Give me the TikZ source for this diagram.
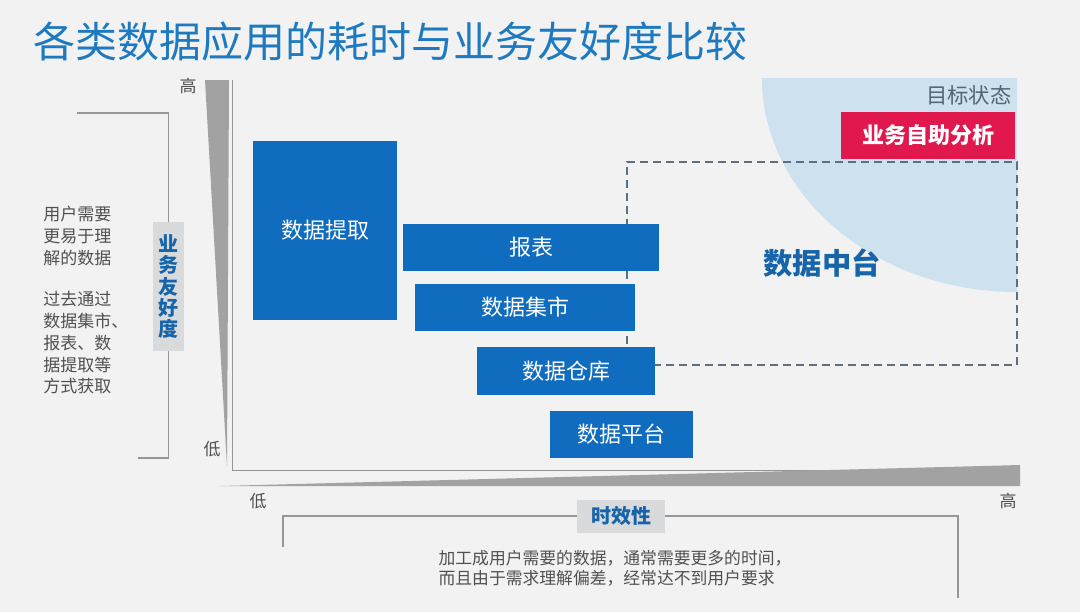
\documentclass[tikz,border=0pt]{standalone}
\usepackage{fontspec}
\setmainfont{Noto Sans CJK SC}
\usetikzlibrary{positioning, arrows.meta}

\definecolor{bgc}{RGB}{242,242,242}
\definecolor{boxblue}{RGB}{16,108,190}
\definecolor{titleblue}{RGB}{30,122,192}
\definecolor{darkblue}{RGB}{22,100,170}
\definecolor{goalblue}{RGB}{206,225,238}
\definecolor{goalred}{RGB}{224,24,78}
\definecolor{dashgray}{RGB}{92,112,132}
\definecolor{wedgegray}{RGB}{162,162,162}
\definecolor{linegray}{RGB}{150,150,150}
\definecolor{labelgray}{RGB}{217,218,219}
\definecolor{textgray}{RGB}{80,80,80}

\begin{document}
\begin{tikzpicture}[x=0.75pt,y=-0.75pt,semithick]
\tikzstyle{blk}=[fill=boxblue,text=white,inner sep=0pt,font=\fontsize{16.5}{18}\selectfont]
\tikzstyle{axlabel}=[text=textgray,inner sep=0pt,font=\fontsize{12.75}{14}\selectfont]
\tikzstyle{tag}=[fill=labelgray,text=darkblue,inner sep=0pt,font=\fontsize{15}{17}\bfseries\selectfont]
\tikzstyle{bracket}=[draw=linegray,line width=0.9pt]
\tikzstyle{axisline}=[draw=linegray,line width=0.75pt]
\tikzstyle{dashbox}=[draw=dashgray,line width=1.5pt,dash pattern=on 6pt off 3.75pt,inner sep=0pt,text=darkblue,font=\fontsize{22}{24}\bfseries\selectfont]

\fill[bgc] (0,0) rectangle (1080,612);
\useasboundingbox (0,0) rectangle (1080,612);

\node[anchor=west,inner sep=0pt,text=titleblue,font=\fontsize{31.5}{36}\selectfont] (title) at (33,42) {各类数据应用的耗时与业务友好度比较};

% target area
\begin{scope}
\clip (762,78) rectangle (1017,292);
\fill[goalblue] (1017,78) ellipse [x radius=255, y radius=214];
\end{scope}
\node[dashbox,minimum width=292.5pt,minimum height=152.25pt] (zt) at (822,263.5) {数据中台};
\node[fill=goalred,text=white,inner sep=0pt,minimum width=130.5pt,minimum height=35.25pt,font=\fontsize{16.5}{18}\bfseries\selectfont] (zizhu) at (928,135.5) {业务自助分析};
\node[anchor=east,inner sep=0pt,text=dashgray!90!black,font=\fontsize{16}{18}\selectfont] (mubiao) at (1012,95) {目标状态};

% data applications
\node[blk,minimum width=108pt,minimum height=134.25pt] (tiqu) at (325,230.5) {数据提取};
\node[blk,minimum width=192pt,minimum height=35.25pt] (baobiao) at (531,247.5) {报表};
\node[blk,minimum width=165pt,minimum height=35.25pt] (jishi) at (525,307.5) {数据集市};
\node[blk,minimum width=133.5pt,minimum height=36pt] (cangku) at (566,371) {数据仓库};
\node[blk,minimum width=107.25pt,minimum height=35.25pt] (pingtai) at (621.5,434.5) {数据平台};

% axes
\coordinate (ytop) at (232,80);
\coordinate (o) at (232,470);
\coordinate (xend) at (1020,470);
\draw[axisline] (ytop) -- (o) -- (xend);
\fill[wedgegray] (205,80) -- (229,80) -- (227,466) -- cycle;
\fill[wedgegray] (220,486) -- (1020,465) -- (1020,486) -- cycle;

\node[axlabel] (yhigh) at (188,86) {高};
\node[axlabel] (ylow) at (212,449) {低};
\node[axlabel] (xlow) at (258,501) {低};
\node[axlabel] (xhigh) at (1008,501) {高};

% y bracket
\node[tag,minimum width=23.25pt,minimum height=96.75pt,align=center] (youhao) at (168.5,286.5) {业\\[-1pt]务\\[-1pt]友\\[-1pt]好\\[-1pt]度};
\coordinate (ylt) at (77,113);
\coordinate (ylb) at (138,458);
\draw[bracket] (ylt) -| (youhao.north);
\draw[bracket] (youhao.south) |- (ylb);
\node[anchor=north west,inner sep=0pt,align=left,text=textgray,font=\fontsize{12.75}{16.3}\selectfont] (ydesc) at (43,206) {用户需要\\更易于理\\解的数据\\[15pt]过去通过\\数据集市、\\报表、数\\据提取等\\方式获取};

% x bracket
\node[tag,minimum width=66pt,minimum height=24.75pt] (shixiao) at (621,516) {时效性};
\coordinate (xlb) at (283,547);
\coordinate (xrb) at (958,598);
\draw[bracket] (shixiao.west) -| (xlb);
\draw[bracket] (shixiao.east) -| (xrb);
\node[anchor=north,inner sep=0pt,align=left,text=textgray,font=\fontsize{12.6}{15}\selectfont] (xdesc) at (615,550) {加工成用户需要的数据，通常需要更多的时间，\\而且由于需求理解偏差，经常达不到用户要求};
\end{tikzpicture}
\end{document}
